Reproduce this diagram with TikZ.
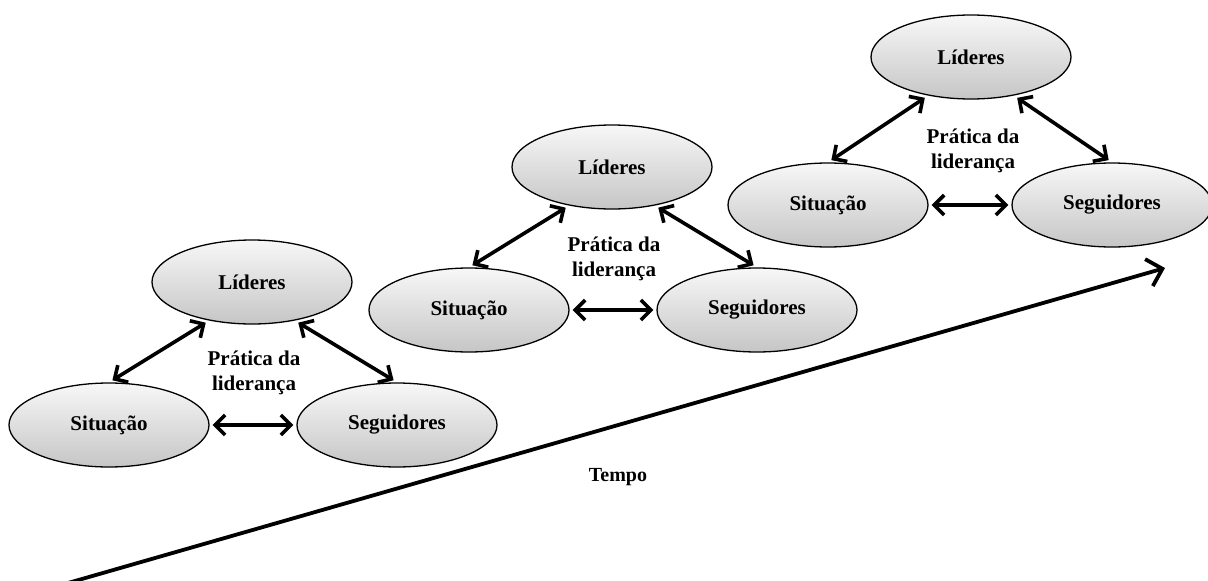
\documentclass[tikz,border=0pt]{standalone}
\usepackage{fontspec}
\setmainfont{Liberation Serif}
\usetikzlibrary{arrows.meta,shapes.geometric}

\begin{document}
\begin{tikzpicture}[x=1pt, y=-1pt, font=\fontsize{21}{25}\selectfont\bfseries,
		actor/.style={ellipse, draw, line width=1.3pt, minimum width=200pt, minimum height=84pt,
			inner sep=0pt, top color=gray!6, bottom color=gray!45},
		link/.style={{Straight Barb[length=10pt,width=20pt,line width=3.6pt]}-{Straight Barb[length=10pt,width=20pt,line width=3.6pt]},
			line width=3.6pt, line cap=round, shorten <=4pt, shorten >=4pt},
		timeline/.style={-{Straight Barb[length=14pt,width=28pt,line width=3.8pt]}, line width=3.8pt, line cap=round}]
	\useasboundingbox (0, 0) rectangle (1208, 581);

	\coordinate (t0) at (68, 583);
	\coordinate (t1) at (1165, 268);
	\draw[timeline] (t0) -- (t1);
	\node (tempo) at (618, 477) {\fontsize{20}{23}\selectfont Tempo};

	\begin{scope}[shift={(252, 282)}]
		\node[actor] (l1) at (0, 0) {Líderes};
		\node[actor] (si1) at (-143, 143) {Situação};
		\node[actor] (se1) at (145, 143) {Seguidores};
		\node[align=center] (p1) at (2, 91) {Prática da\\liderança};
		\draw[link] (l1.222) -- (si1.north);
		\draw[link] (l1.318) -- (se1.north);
		\draw[link, shorten <=3pt, shorten >=3pt] (si1.east) -- (se1.west);
	\end{scope}

	\begin{scope}[shift={(612, 167)}]
		\node[actor] (l2) at (0, 0) {Líderes};
		\node[actor] (si2) at (-143, 143) {Situação};
		\node[actor] (se2) at (145, 143) {Seguidores};
		\node[align=center] (p2) at (2, 92) {Prática da\\liderança};
		\draw[link] (l2.222) -- (si2.north);
		\draw[link] (l2.318) -- (se2.north);
		\draw[link, shorten <=3pt, shorten >=3pt] (si2.east) -- (se2.west);
	\end{scope}

	\begin{scope}[shift={(971, 57)}]
		\node[actor] (l3) at (0, 0) {Líderes};
		\node[actor] (si3) at (-143, 148) {Situação};
		\node[actor] (se3) at (141, 148) {Seguidores};
		\node[align=center] (p3) at (2, 94) {Prática da\\liderança};
		\draw[link] (l3.222) -- (si3.north);
		\draw[link] (l3.318) -- (se3.north);
		\draw[link, shorten <=3pt, shorten >=3pt] (si3.east) -- (se3.west);
	\end{scope}
\end{tikzpicture}
\end{document}
